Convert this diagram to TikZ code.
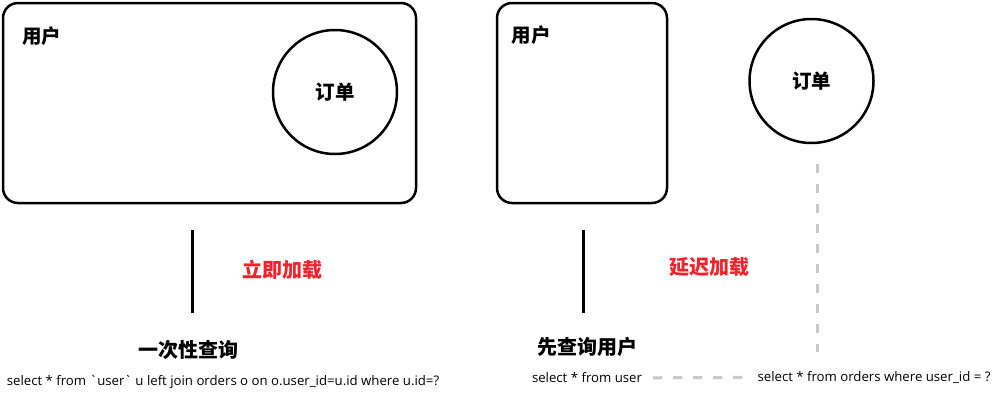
\documentclass[tikz,border=0pt]{standalone}
\usepackage{fontspec}
\setmainfont{Open Sans}
\newfontfamily\cjk{Noto Sans CJK SC}
\usetikzlibrary{positioning}
\definecolor{loadRed}{HTML}{F0232D}
\definecolor{lazyGray}{HTML}{C8C8C8}

\begin{document}
\begin{tikzpicture}[x=1pt, y=-1pt, node distance=32pt,
    entity/.style={draw, line width=2.5, rounded corners=15, inner sep=0},
    ball/.style={circle, draw, line width=2.5, minimum size=124, inner sep=0, font=\cjk\bfseries\fontsize{19.5}{20}\selectfont},
    title/.style={font=\cjk\bfseries\fontsize{19.5}{20}\selectfont},
    head/.style={font=\cjk\bfseries\fontsize{20}{20}\selectfont},
    sql/.style={font=\fontsize{13.2}{14}\selectfont, inner sep=2}]
                        \useasboundingbox (0,0) rectangle (999,405);

                        % eager side
                        \node[entity, minimum width=413, minimum height=200] (user1) at (209.5,103) {};
                        \node[title] (ulbl1) at (42,36) {用户};
                        \node[ball] (order1) at (335,92) {订单};
                        \coordinate (top1) at (192,230);
                        \coordinate (bot1) at (192,313);
                        \node[head, loadRed] (eager) at (282,270) {立即加载};
                        \node[head] (query1) at (188,350) {一次性查询};
                        \node[sql] (sql1) [below of = query1, xshift=35] {select * from \textasciigrave user\textasciigrave{} u left join orders o on o.user\_id=u.id where u.id=?};

                        % lazy side
                        \node[entity, minimum width=170, minimum height=200] (user2) at (582,103) {};
                        \node[title] (ulbl2) at (531,35) {用户};
                        \node[ball] (order2) at (811.5,81) {订单};
                        \coordinate (top2) at (583,230);
                        \coordinate (bot2) at (583,313);
                        \coordinate (tail) at (817,352);
                        \node[head, loadRed] (lazy) at (709,267) {延迟加载};
                        \node[head] (query2) at (587,347) {先查询用户};
                        \node[sql] (sql2) [below of = query2, yshift=1] {select * from user};
                        \node[sql] (sql3) at (874,377) {select * from orders where user\_id = ?};

                        \path[line width=3]
                            (top1) edge (bot1)
                            (top2) edge (bot2)
                        ;
                        \path[lazyGray, line width=3, dash pattern=on 9 off 11]
                            (sql2) edge[shorten <=9, shorten >=12] (sql3)
                            (order2.south -| tail) edge[shorten <=20] (tail)
                        ;
                    \end{tikzpicture}
\end{document}
